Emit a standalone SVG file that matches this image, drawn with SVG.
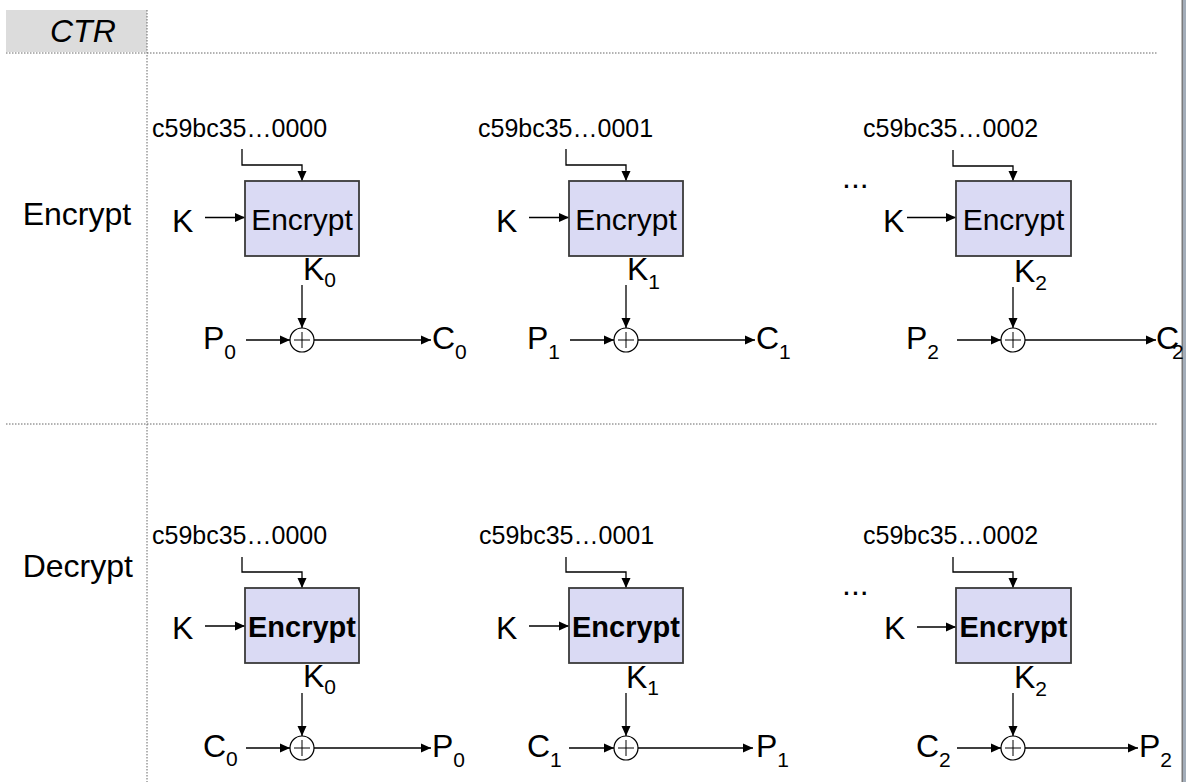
<svg xmlns="http://www.w3.org/2000/svg" width="1186" height="782" viewBox="0 0 1186 782">
<defs>
<style>
.t{font-family:"Liberation Sans",Arial,sans-serif;fill:#000}
.c{font-size:25px}
.lb{font-size:32px}
.io{font-size:32px}
.bx{font-size:30px;text-anchor:middle}
.bb{font-size:29px;font-weight:bold;text-anchor:middle}
.sub{font-size:21px}
.ln{stroke:#000;stroke-width:1.3;fill:none}
.ar{marker-end:url(#ah)}
.box{fill:#dadaf4;stroke:#3a3a3a;stroke-width:1.8}
.xo{fill:#fff;stroke:#000;stroke-width:1.2}
.pl{stroke:#000;stroke-width:1;fill:none}
.dot{stroke:#666;stroke-width:1;stroke-dasharray:1.5 1.5;fill:none}
</style>
<marker id="ah" markerUnits="userSpaceOnUse" markerWidth="10" markerHeight="10" viewBox="0 0 10 10" refX="10" refY="5" orient="auto"><path d="M0,0.5 L10,5 L0,9.5 Z" fill="#000"/></marker>
</defs>
<rect width="1186" height="782" fill="#fff"/>
<g id="frame">
<rect x="6" y="10" width="141" height="42" fill="#dcdcdc"/>
<text class="t" x="50" y="42" font-size="32" font-style="italic">CTR</text>
<path class="dot" d="M6,53 H1157 M6,424 H1157 M147,10 V782"/>
<rect x="1181.5" y="0" width="1.6" height="782" fill="#7a7a7a"/>
<rect x="1183" y="0" width="3" height="782" fill="#a3adb9"/>
<text class="t lb" x="22.7" y="225">Encrypt</text>
<text class="t lb" x="22.7" y="577">Decrypt</text>
<text class="t" x="842" y="188" font-size="32">...</text>
<text class="t" x="842" y="595" font-size="32">...</text>
</g>
<g id="connectors">
<path class="ln ar" d="M242,149 V165 H302 V181"/>
<path class="ln ar" d="M205,217.5 H245"/>
<path class="ln ar" d="M302,285 V328"/>
<path class="ln ar" d="M246,340 H290"/>
<path class="ln ar" d="M314,340 H431"/>
<path class="ln ar" d="M566,149 V165 H626 V181"/>
<path class="ln ar" d="M529,217.5 H569"/>
<path class="ln ar" d="M626,285 V328"/>
<path class="ln ar" d="M570,340 H614"/>
<path class="ln ar" d="M638,340 H755"/>
<path class="ln ar" d="M953,150 V166 H1013 V181"/>
<path class="ln ar" d="M907,217.5 H956"/>
<path class="ln ar" d="M1013,287 V328"/>
<path class="ln ar" d="M957,340 H1001"/>
<path class="ln ar" d="M1025,340 H1156"/>
<path class="ln ar" d="M242,557 V572 H302 V588"/>
<path class="ln ar" d="M205,626 H245"/>
<path class="ln ar" d="M302,693 V736"/>
<path class="ln ar" d="M246,748 H290"/>
<path class="ln ar" d="M314,748 H431"/>
<path class="ln ar" d="M566,557 V572 H626 V588"/>
<path class="ln ar" d="M529,626 H569"/>
<path class="ln ar" d="M626,693 V736"/>
<path class="ln ar" d="M569,748 H614"/>
<path class="ln ar" d="M638,748 H753"/>
<path class="ln ar" d="M953,557 V572 H1013 V588"/>
<path class="ln ar" d="M917,627 H956"/>
<path class="ln ar" d="M1013,693 V736"/>
<path class="ln ar" d="M957,748 H1001"/>
<path class="ln ar" d="M1025,748 H1138"/>
</g>
<g id="enc0">
<text class="t c" x="152" y="136.5">c59bc35…0000</text>
<rect class="box" x="245" y="181" width="114" height="75"/>
<text class="t bx" x="302" y="230">Encrypt</text>
<text class="t io" x="172" y="232">K</text>
<text class="t io" x="303" y="280">K<tspan class="sub" dy="7">0</tspan></text>
<text class="t io" x="203" y="349">P<tspan class="sub" dy="10">0</tspan></text>
<circle class="xo" cx="302" cy="340" r="12"/><path class="pl" d="M294,340 H310 M302,332 V348"/>
<text class="t io" x="432" y="349">C<tspan class="sub" dy="10">0</tspan></text>
</g>
<g id="enc1">
<text class="t c" x="478" y="136.5">c59bc35…0001</text>
<rect class="box" x="569" y="181" width="114" height="75"/>
<text class="t bx" x="626" y="230">Encrypt</text>
<text class="t io" x="496" y="232">K</text>
<text class="t io" x="627" y="280">K<tspan class="sub" dy="9">1</tspan></text>
<text class="t io" x="527" y="349">P<tspan class="sub" dy="10">1</tspan></text>
<circle class="xo" cx="626" cy="340" r="12"/><path class="pl" d="M618,340 H634 M626,332 V348"/>
<text class="t io" x="756" y="349">C<tspan class="sub" dy="10">1</tspan></text>
</g>
<g id="enc2">
<text class="t c" x="863" y="136.5">c59bc35…0002</text>
<rect class="box" x="956" y="181" width="115" height="75"/>
<text class="t bx" x="1013.5" y="230">Encrypt</text>
<text class="t io" x="883" y="232">K</text>
<text class="t io" x="1014" y="282">K<tspan class="sub" dy="8">2</tspan></text>
<text class="t io" x="906" y="349">P<tspan class="sub" dy="10">2</tspan></text>
<circle class="xo" cx="1013" cy="340" r="12"/><path class="pl" d="M1005,340 H1021 M1013,332 V348"/>
<text class="t io" x="1156" y="349">C<tspan class="sub" dy="10" dx="-7">2</tspan></text>
</g>
<g id="dec0">
<text class="t c" x="152" y="543.5">c59bc35…0000</text>
<rect class="box" x="245" y="588" width="114" height="75"/>
<text class="t bb" x="302" y="637">Encrypt</text>
<text class="t io" x="172" y="639">K</text>
<text class="t io" x="303" y="687">K<tspan class="sub" dy="7">0</tspan></text>
<text class="t io" x="203" y="757">C<tspan class="sub" dy="9">0</tspan></text>
<circle class="xo" cx="302" cy="748" r="12"/><path class="pl" d="M294,748 H310 M302,740 V756"/>
<text class="t io" x="432" y="757">P<tspan class="sub" dy="10">0</tspan></text>
</g>
<g id="dec1">
<text class="t c" x="479" y="543.5">c59bc35…0001</text>
<rect class="box" x="569" y="588" width="114" height="75"/>
<text class="t bb" x="626" y="637">Encrypt</text>
<text class="t io" x="496" y="639">K</text>
<text class="t io" x="626" y="688">K<tspan class="sub" dy="7">1</tspan></text>
<text class="t io" x="527" y="757">C<tspan class="sub" dy="10">1</tspan></text>
<circle class="xo" cx="626" cy="748" r="12"/><path class="pl" d="M618,748 H634 M626,740 V756"/>
<text class="t io" x="756" y="757">P<tspan class="sub" dy="10">1</tspan></text>
</g>
<g id="dec2">
<text class="t c" x="863" y="543.5">c59bc35…0002</text>
<rect class="box" x="956" y="588" width="115" height="75"/>
<text class="t bb" x="1013.5" y="637">Encrypt</text>
<text class="t io" x="884" y="639">K</text>
<text class="t io" x="1014" y="688">K<tspan class="sub" dy="8">2</tspan></text>
<text class="t io" x="916" y="757">C<tspan class="sub" dy="10">2</tspan></text>
<circle class="xo" cx="1013" cy="748" r="12"/><path class="pl" d="M1005,748 H1021 M1013,740 V756"/>
<text class="t io" x="1139" y="757">P<tspan class="sub" dy="10">2</tspan></text>
</g>
</svg>
